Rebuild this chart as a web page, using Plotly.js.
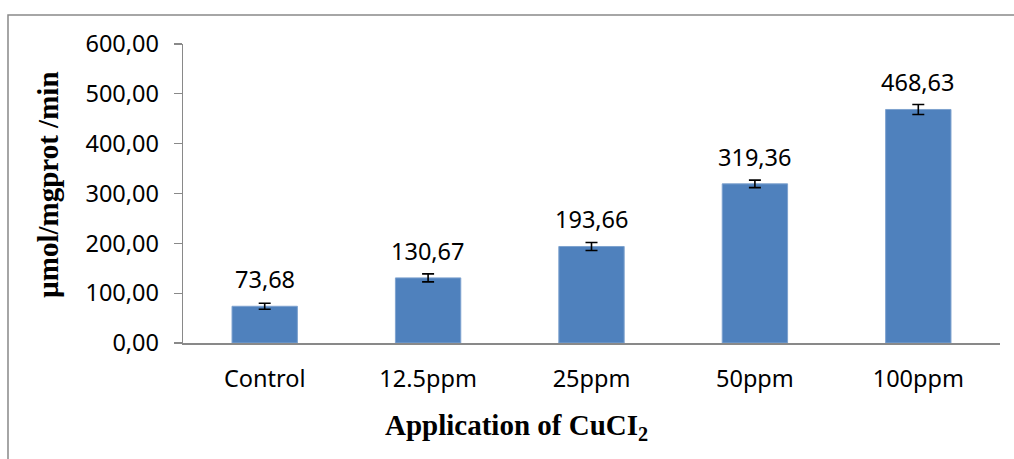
<!DOCTYPE html>
<html>
<head>
<meta charset="utf-8">
<script src="https://cdn.plot.ly/plotly-3.0.1.min.js"></script>
<style>
html,body{margin:0;padding:0;background:#fff;}
#chart{width:1014px;height:459px;}
</style>
</head>
<body>
<div id="chart"></div>
<script>
const categories = ["Control", "12.5ppm", "25ppm", "50ppm", "100ppm"];
const values = [73.68, 130.67, 193.66, 319.36, 468.63];
const errors = [6, 8, 8, 7.5, 10];
const yTickValues = [0, 100, 200, 300, 400, 500, 600];
const yTitle = "µmol/mgprot /min";
const xTitle = "Application of CuCI<sub>2</sub>";

const labelFont = {family: "Noto Sans, Open Sans, sans-serif", size: 23.5, color: "#000"};
const titleFont = {family: "Liberation Serif, Times New Roman, serif", size: 29, color: "#000"};

const fmt = v => v.toFixed(2).replace(".", ",");

const trace = {
  type: "bar",
  x: categories,
  y: values,
  width: 0.4,
  marker: {color: "#4F81BD", line: {color: "#7EA2CF", width: 1}},
  error_y: {type: "data", array: errors, visible: true, color: "#000", thickness: 1.6, width: 6},
  hoverinfo: "none"
};

const annotations = categories.map((c, i) => ({
  x: c, y: values[i], xref: "x", yref: "y",
  text: fmt(values[i]), showarrow: false,
  yanchor: "middle", yshift: 27, font: labelFont
}));
annotations.push({
  xref: "paper", yref: "paper", x: 0.4088, y: -0.28,
  xanchor: "center", yanchor: "middle", showarrow: false,
  text: "<b>" + xTitle + "</b>", font: titleFont
});
annotations.push({
  xref: "paper", yref: "paper", x: -0.166, y: 0.53,
  xanchor: "center", yanchor: "middle", showarrow: false, textangle: -90,
  text: "<b>" + yTitle + "</b>", font: titleFont
});

const layout = {
  width: 1014, height: 459,
  margin: {l: 183, r: 14, t: 44, b: 116},
  paper_bgcolor: "#fff", plot_bgcolor: "#fff",
  separators: ",.",
  showlegend: false,
  bargap: 0.6,
  xaxis: {
    showline: true, linecolor: "#898989", linewidth: 2,
    ticks: "", showgrid: false, zeroline: false,
    tickfont: labelFont, ticklabelstandoff: 14, fixedrange: true
  },
  yaxis: {
    range: [0, 600], tickvals: yTickValues, tickformat: ".2f",
    showline: true, linecolor: "#898989", linewidth: 1.3,
    ticks: "outside", ticklen: 8, tickcolor: "#898989", tickwidth: 1.3,
    showgrid: false, zeroline: false,
    tickfont: labelFont, ticklabelstandoff: 10, fixedrange: true
  },
  annotations: annotations,
  shapes: [{
    type: "rect", xref: "paper", yref: "paper",
    x0: -0.2142, x1: 1.04, y0: -0.6, y1: 1.097,
    line: {color: "#898989", width: 1.5}, fillcolor: "rgba(0,0,0,0)", layer: "below"
  }]
};

Plotly.newPlot("chart", [trace], layout, {displayModeBar: false, staticPlot: true});
</script>
</body>
</html>
